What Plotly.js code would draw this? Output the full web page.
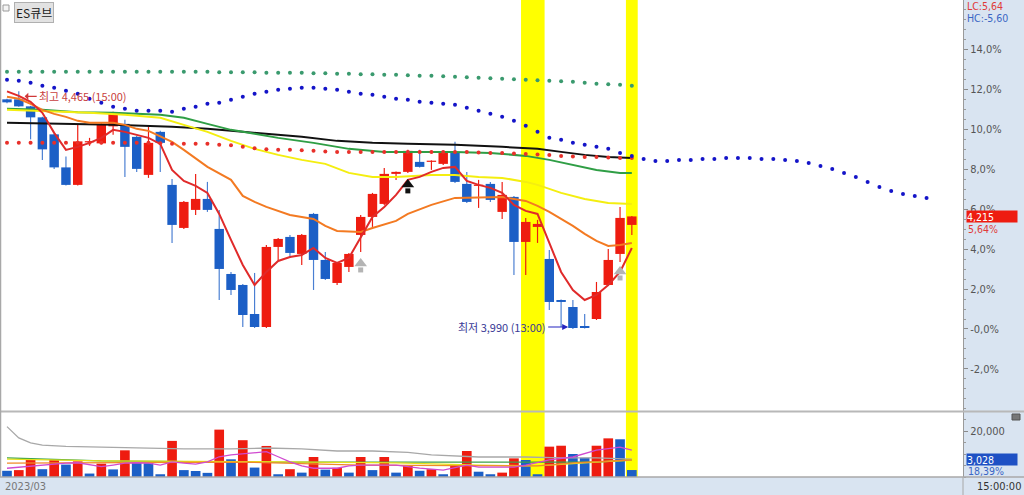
<!DOCTYPE html>
<html><head><meta charset="utf-8">
<script src="https://cdn.plot.ly/plotly-3.0.1.min.js"></script>
<style>html,body{margin:0;padding:0;background:#fff}#chart{width:1024px;height:495px}</style>
</head><body><div id="chart"></div>
<script>
// ---- data (prices) ----
const BASE = 3990; // the period low; the axis shows % above it
const openP  = [4449,4449,4435,4413,4379,4313,4278,4363,4361,4395,4400,4374,4298,4384,4278,4192,4228,4250,4190,4100,4078,4020,3994,4154,4174,4140,4220,4128,4082,4114,4178,4214,4240,4300,4304,4324,4324,4320,4342,4280,4276,4280,4224,4254,4164,4194,4130,4048,4034,3996,4010,4078,4140,4198];
const highP  = [4450,4465,4436,4414,4380,4335,4398,4372,4401,4424,4408,4376,4394,4386,4290,4246,4300,4284,4228,4104,4080,4102,4158,4172,4178,4180,4222,4144,4124,4142,4218,4262,4312,4305,4348,4348,4327,4344,4364,4304,4288,4284,4284,4256,4212,4208,4148,4049,4048,4020,4084,4150,4234,4216];
const lowP   = [4441,4434,4369,4328,4310,4277,4277,4356,4359,4378,4294,4304,4292,4304,4162,4190,4218,4224,4048,4058,3994,3992,3992,4128,4132,4118,4068,4088,4078,4104,4144,4194,4238,4288,4302,4313,4308,4318,4282,4242,4232,4244,4210,4098,4098,4162,4028,3994,3990,3991,4008,4076,4124,4178];
const closeP = [4443,4435,4413,4349,4313,4278,4365,4365,4399,4421,4354,4310,4362,4362,4198,4244,4250,4228,4110,4068,4018,3994,4154,4170,4142,4178,4128,4090,4122,4140,4214,4260,4300,4304,4346,4314,4326,4342,4284,4244,4278,4248,4258,4164,4204,4200,4044,4044,3992,3992,4064,4128,4212,4215];
const volume = [2700,3000,7600,3400,7800,5400,6800,1500,5800,3300,11600,6100,6000,1200,15700,3000,2600,1800,20600,7700,16000,4100,13500,1200,3400,1900,8700,3200,4000,1900,8700,3000,8700,1900,4800,2700,3400,1200,4900,11300,2300,1200,1900,8100,7400,1200,13200,13600,10000,8400,13600,16800,16400,3028];

// moving-average lines (price)
const ma5 = [4465,4456,4444,4422,4382,4348,4354,4362,4372,4388,4384,4378,4372,4360,4308,4286,4276,4262,4220,4168,4118,4078,4104,4126,4134,4138,4152,4132,4122,4132,4172,4214,4234,4258,4288,4294,4304,4312,4314,4286,4278,4272,4262,4238,4226,4220,4162,4104,4068,4048,4058,4078,4104,4152];
const orangeIdx = [0,1,2,3,4,5,6,7,9,10,11,12,14,15,17,19,20,21,22,24,26,27,28,30,31,33,34,36,38,42,44,45,46,47,48,49,50,51,52,53];
const orangeVal = [4454,4450,4440,4428,4420,4414,4406,4402,4402,4398,4390,4386,4364,4348,4314,4288,4256,4244,4234,4218,4210,4196,4186,4184,4192,4206,4220,4238,4252,4254,4246,4236,4224,4210,4196,4180,4166,4156,4158,4162];
const yellowIdx = [0,3,7,10,13,15,17,19,21,23,25,27,29,31,33,36,38,40,42,44,45,47,49,51,53];
const yellowVal = [4428,4426,4422,4418,4412,4398,4384,4366,4350,4338,4328,4320,4302,4294,4294,4298,4298,4294,4292,4284,4278,4262,4250,4242,4240];
const greenIdx = [0,3,6,9,13,15,17,19,21,23,26,29,32,35,38,41,44,46,48,50,52,53];
const greenVal = [4430,4428,4423,4422,4418,4412,4400,4388,4380,4372,4362,4350,4344,4344,4344,4342,4336,4328,4318,4308,4302,4302];
const blackIdx = [0,5,9,14,17,20,22,25,28,31,34,38,42,45,47,49,51,53];
const blackVal = [4402,4400,4398,4394,4390,4384,4380,4374,4366,4362,4360,4358,4354,4350,4344,4338,4334,4332];

// dotted lines (one dot per slot)
const greenDots = [4504,4504,4504,4504,4504,4504,4504,4504,4504,4504,4504,4504,4504,4504,4504,4504,4504,4504,4503,4503,4503,4503,4502,4502,4502,4502,4501,4501,4500,4500,4499,4499,4498,4498,4497,4496,4496,4495,4494,4493,4492,4491,4490,4489,4488,4487,4486,4485,4484,4482,4480,4479,4478,4476];
const redDots = [4362,4362,4362,4362,4362,4362,4362,4362,4362,4362,4362,4362,4362,4361,4360,4360,4360,4360,4358,4357,4354,4351,4349,4348,4348,4347,4346,4345,4344,4344,4344,4344,4344,4344,4344,4344,4344,4344,4344,4344,4343,4342,4342,4341,4340,4339,4338,4336,4335,4334,4334,4333,4332,4332];
const blueDots = [4488,4486,4482,4476,4472,4466,4460,4450,4442,4434,4430,4426,4426,4426,4424,4430,4434,4440,4442,4448,4454,4460,4464,4468,4470,4472,4472,4470,4468,4464,4460,4458,4454,4450,4448,4444,4442,4440,4438,4432,4426,4420,4414,4406,4396,4384,4372,4368,4362,4358,4354,4350,4342,4336,4330,4326,4326,4328,4328,4330,4330,4332,4332,4332,4330,4330,4328,4326,4322,4316,4310,4302,4294,4284,4274,4266,4260,4256,4252];

// volume averages
const grayVIdx = [0,1,2,3,5,8,11,15,19,22,25,28,31,34,36,38,40,44,47,50,53];
const grayVVal = [21900,17000,14800,13900,13300,13000,12600,12200,12200,12600,12200,11300,11300,10700,9600,9100,8700,8700,8300,8300,7800];
const pinkVIdx = [0,3,5,6,7,8,9,10,11,12,13,14,15,16,17,18,19,21,22,23,24,25,26,28,29,30,33,35,37,39,40,43,44,46,48,50,52,53];
const pinkVVal = [3800,5200,6000,6200,5200,4500,5200,6000,6200,6000,5200,6600,6000,5600,6600,8800,9600,10600,11000,8800,6600,4800,3800,3800,4800,5200,5200,3900,3000,5200,4300,4300,5200,7400,8700,11700,13000,11700];
const greenVIdx = [0,8,20,28,40,50,53];
const greenVVal = [8300,7000,6500,6500,6500,6500,7400];
const yellowVIdx = [0,8,20,28,33,40,45,50,53];
const yellowVVal = [7800,7000,6700,6500,6100,5200,4800,6500,7400];
const orangeVIdx = [0,10,20,30,40,45,48,53];
const orangeVVal = [6000,6100,6500,5200,4800,4800,6100,7400];

// signals
const graySigIdx = [30,52];
const graySigVal = [4116,4100];
const blackSigIdx = [34];
const blackSigVal = [4274];

// highlighted slots
const bands = [[43.6,45.6],[52.5,53.5]];

const priceTicks = [-2,0,2,4,6,8,10,12,14];
const priceTickText = ['-2,0%','-0,0%','2,0%','4,0%','6,0%','8,0%','10,0%','12,0%','14,0%'];

// ---- build ----
const pct = v => (v / BASE - 1) * 100;
const idx = openP.map((_, i) => i);
const futureIdx = blueDots.map((_, i) => i);

const RED = '#ee1c10', BLUE = '#1c5fc6', WICKBLUE = '#4a7fd2';
const up = idx.map(i => closeP[i] >= openP[i]);
const candleColors = up.map(u => u ? RED : BLUE);
const wickColors = up.map(u => u ? RED : WICKBLUE);
const bodyBase = idx.map(i => pct(Math.min(openP[i], closeP[i])));
const bodyLen = idx.map(i => Math.max(pct(Math.max(openP[i], closeP[i])) - bodyBase[i], 0.06));
const volColors = volume.map((v, i) => (i > 0 && v > volume[i-1]) ? RED : BLUE);

const line = (xs, ys, color, width, yaxis) => ({
  type: 'scatter', mode: 'lines', x: xs, y: ys, yaxis: yaxis || 'y',
  line: {color: color, width: width}, hoverinfo: 'skip'
});
const dots = (xs, ys, color) => ({
  type: 'scatter', mode: 'markers', x: xs, y: ys.map(pct),
  marker: {color: color, size: 4}, hoverinfo: 'skip'
});

const traces = [
  {type: 'bar', x: idx, base: lowP.map(pct), y: idx.map(i => pct(highP[i]) - pct(lowP[i])), width: 0.1,
   marker: {color: wickColors, line: {width: 0}}, hoverinfo: 'skip'},
  {type: 'bar', x: idx, base: bodyBase, y: bodyLen, width: 0.8,
   marker: {color: candleColors, line: {width: 0}}, hoverinfo: 'skip'},
  line(blackIdx, blackVal.map(pct), '#111111', 2),
  line(greenIdx, greenVal.map(pct), '#2f9e45', 2),
  line(yellowIdx, yellowVal.map(pct), '#f4ee10', 2),
  line(orangeIdx, orangeVal.map(pct), '#f37a22', 2),
  line(idx, ma5.map(pct), '#e02a2a', 2),
  dots(idx, greenDots, '#3a9a6e'),
  dots(idx, redDots, '#e8302a'),
  dots(futureIdx, blueDots, '#1414c8'),
  {type: 'scatter', mode: 'markers', x: graySigIdx, y: graySigVal.map(v => pct(v) + 0.12),
   marker: {symbol: 'triangle-up', size: 11, color: '#b4b4b4'}, hoverinfo: 'skip'},
  {type: 'scatter', mode: 'markers', x: graySigIdx, y: graySigVal.map(v => pct(v) - 0.2),
   marker: {symbol: 'square', size: 5, color: '#b4b4b4'}, hoverinfo: 'skip'},
  {type: 'scatter', mode: 'markers', x: blackSigIdx, y: blackSigVal.map(v => pct(v) + 0.12),
   marker: {symbol: 'triangle-up', size: 11, color: '#111'}, hoverinfo: 'skip'},
  {type: 'scatter', mode: 'markers', x: blackSigIdx, y: blackSigVal.map(v => pct(v) - 0.2),
   marker: {symbol: 'square', size: 5, color: '#111'}, hoverinfo: 'skip'},
  {type: 'bar', x: idx, y: volume, yaxis: 'y2', width: 0.82, marker: {color: volColors, line: {width: 0}}, hoverinfo: 'skip'},
  line(grayVIdx, grayVVal, '#a8a8a8', 1.3, 'y2'),
  line(greenVIdx, greenVVal, '#3aa34a', 1.3, 'y2'),
  line(yellowVIdx, yellowVVal, '#e6e21a', 1.3, 'y2'),
  line(orangeVIdx, orangeVVal, '#f08a2a', 1.3, 'y2'),
  line(pinkVIdx, pinkVVal, '#d04ad0', 1.3, 'y2')
];

const W = 963, H = 477; // plot area in px
const px = x => x / W;
const py = y => 1 - y / H;

const shapes = bands.map(b => ({type: 'rect', xref: 'x', yref: 'paper', x0: b[0], x1: b[1], y0: 0, y1: 1,
  fillcolor: '#ffff00', line: {width: 0}, layer: 'below'}));
shapes.push(
  {type: 'line', xref: 'paper', yref: 'paper', x0: 0, x1: px(1024), y0: py(411.5), y1: py(411.5), line: {color: '#b8b8b8', width: 2}},
  {type: 'line', xref: 'paper', yref: 'paper', x0: 0, x1: px(1024), y0: 0, y1: 0, line: {color: '#a8a8a8', width: 1.5}},
  {type: 'line', xref: 'paper', yref: 'paper', x0: 1, x1: 1, y0: py(495), y1: 0, line: {color: '#a8a8a8', width: 1}},
  {type: 'line', xref: 'paper', yref: 'paper', x0: px(0.5), x1: px(0.5), y0: 0, y1: 1, line: {color: '#a8a8a8', width: 1.5}},
  {type: 'rect', xref: 'paper', yref: 'paper', x0: px(3), x1: px(9), y0: py(11), y1: py(5), line: {color: '#9a9a9a', width: 1}, fillcolor: '#f4f4f4'},
  {type: 'rect', xref: 'paper', yref: 'paper', x0: px(1012), x1: px(1020), y0: py(420), y1: py(414), line: {color: '#555', width: 1}, fillcolor: '#777'}
);

const axFont = {family: 'Liberation Sans Narrow, DejaVu Sans Condensed, Liberation Sans, sans-serif', size: 11, color: '#555'};
const smallFont = c => Object.assign({}, axFont, {size: 10.5, color: c});
const krFont = (c, s) => ({family: 'Noto Sans CJK KR, Liberation Sans, sans-serif', size: s || 11, color: c});

const annotations = [
  {xref: 'paper', yref: 'paper', x: px(14), y: py(2), xanchor: 'left', yanchor: 'top', text: 'ES큐브', showarrow: false,
   font: krFont('#222', 12), bgcolor: '#e2e2e2', bordercolor: '#b0b0b0', borderwidth: 1, borderpad: 1},
  {xref: 'paper', yref: 'paper', x: px(965), y: py(6), xanchor: 'left', yanchor: 'middle', text: 'LC:5,64', showarrow: false, font: smallFont('#e03a3a')},
  {xref: 'paper', yref: 'paper', x: px(965), y: py(18), xanchor: 'left', yanchor: 'middle', text: 'HC:-5,60', showarrow: false, font: smallFont('#3a66c4')},
  {xref: 'paper', yref: 'y', x: px(966), y: pct(closeP[closeP.length-1]), xanchor: 'left', yanchor: 'middle', text: '4,215', showarrow: false,
   font: smallFont('#fff'), bgcolor: '#ee1c10', width: 50, height: 11, align: 'left', borderpad: 0},
  {xref: 'paper', yref: 'paper', x: px(966), y: py(229), xanchor: 'left', yanchor: 'middle', text: '5,64%', showarrow: false, font: smallFont('#e03a3a')},
  {xref: 'paper', yref: 'paper', x: px(966), y: py(459), xanchor: 'left', yanchor: 'middle', text: '3,028', showarrow: false,
   font: smallFont('#fff'), bgcolor: '#1e50c4', width: 50, height: 11, align: 'left', borderpad: 0},
  {xref: 'paper', yref: 'paper', x: px(966), y: py(471), xanchor: 'left', yanchor: 'middle', text: '18,39%', showarrow: false, font: smallFont('#3a66c4')},
  {xref: 'paper', yref: 'paper', x: px(3), y: py(486), xanchor: 'left', yanchor: 'middle', text: '2023/03', showarrow: false, font: Object.assign({}, axFont, {color: '#777'})},
  {xref: 'paper', yref: 'paper', x: px(975), y: py(486), xanchor: 'left', yanchor: 'middle', text: '15:00:00', showarrow: false, font: Object.assign({}, axFont, {color: '#333'})},
  {xref: 'x', yref: 'y', x: 1.5, y: pct(4465) - 0.25, ax: 12, ay: 0, xanchor: 'left', text: '최고 4,465 (15:00)', showarrow: true,
   arrowhead: 1, arrowsize: 1, arrowwidth: 1.2, arrowcolor: '#d03838', font: krFont('#c84040', 11), standoff: 0},
  {xref: 'x', yref: 'y', x: 47.6, y: pct(BASE) + 0.1, ax: -20, ay: 0, xanchor: 'right', text: '최저 3,990 (13:00)', showarrow: true,
   arrowhead: 2, arrowsize: 1, arrowwidth: 1.2, arrowcolor: '#2424c0', font: krFont('#3a3a96', 11), standoff: 0}
];

const layout = {
  width: 1024, height: 495,
  margin: {l: 0, r: 61, t: 0, b: 18, pad: 0},
  paper_bgcolor: '#d9e4f1', plot_bgcolor: '#ffffff',
  showlegend: false, hovermode: false, barmode: 'overlay',
  xaxis: {range: [-0.594, 81.09], visible: false, fixedrange: true},
  yaxis: {domain: [py(411), 1], side: 'right', range: [-4.108, 16.48], tickmode: 'array', tickvals: priceTicks, ticktext: priceTickText,
    ticks: 'outside', ticklen: 4, tickcolor: '#8a8a8a', showgrid: false, zeroline: false, showline: true, linecolor: '#9a9a9a', linewidth: 1,
    tickfont: axFont, minor: {dtick: 0.5, tick0: 0, ticks: 'outside', ticklen: 2, tickcolor: '#9a9a9a'}, fixedrange: true},
  yaxis2: {domain: [0, py(412)], side: 'right', range: [0, 28261], tickmode: 'array', tickvals: [20000], ticktext: ['20,000'],
    ticks: 'outside', ticklen: 4, tickcolor: '#8a8a8a', showgrid: false, zeroline: false, showline: true, linecolor: '#9a9a9a', linewidth: 1,
    tickfont: axFont, minor: {dtick: 5000, tick0: 0, ticks: 'outside', ticklen: 2, tickcolor: '#9a9a9a'}, fixedrange: true},
  shapes: shapes,
  annotations: annotations
};

Plotly.newPlot('chart', traces, layout, {staticPlot: true, displayModeBar: false});
</script>
</body></html>
